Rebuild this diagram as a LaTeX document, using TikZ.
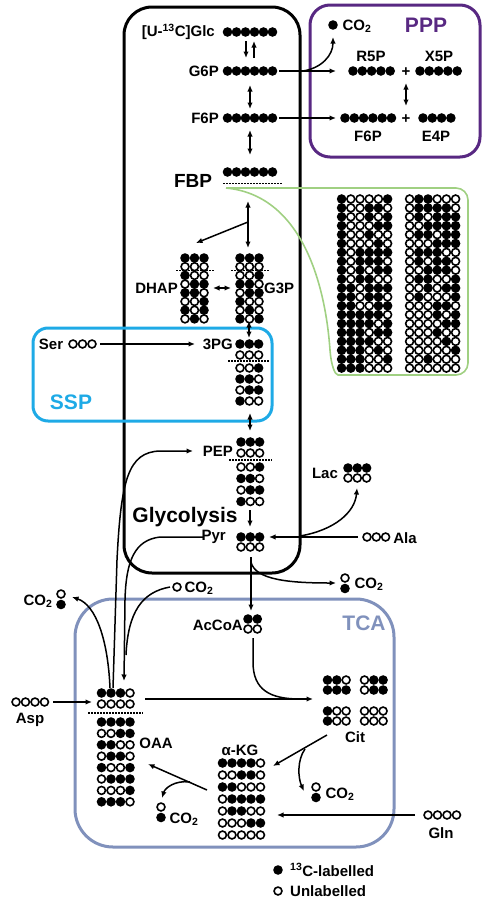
\documentclass[tikz,border=0pt]{standalone}
\usepackage{fontspec}
\setmainfont{Liberation Sans}
\usetikzlibrary{arrows.meta}
\definecolor{pppc}{RGB}{88,40,130}
\definecolor{sspc}{RGB}{30,170,230}
\definecolor{tcac}{RGB}{128,145,188}
\definecolor{grnc}{RGB}{160,208,130}
\newcommand\COt{CO\textsubscript{2}}
\newcommand\molgrid[5]{%
  \foreach \rowl [count=\r from 0] in {#5} {
    \foreach \v [count=\c from 0] in \rowl {
      \pgfmathsetmacro\px{#1+\c*#3}
      \pgfmathsetmacro\py{#2+\r*#4}
      \ifnum\v=1\relax \fill (\px,\py) circle[radius=4.8];
      \else \draw[line width=1.6pt, fill=white] (\px,\py) circle[radius=3.95];
      \fi
    }
  }%
}
\begin{document}
\begin{tikzpicture}[x=1pt,y=-1pt,
  lbl/.style={font=\bfseries\fontsize{15}{16}\selectfont, inner sep=0},
  big/.style={font=\bfseries\fontsize{21}{22}\selectfont, inner sep=0},
  arr/.style={line width=1.5pt, -{Latex[length=6.5pt,width=5.5pt]}},
  darr/.style={line width=1.5pt, {Latex[length=6.5pt,width=5.5pt]}-{Latex[length=6.5pt,width=5.5pt]}},
  ln/.style={line width=1.5pt},
  dotl/.style={line width=1.4pt, dash pattern=on 1.5pt off 1.5pt}]
\useasboundingbox (0,0) rectangle (483,905);
% ---------- boxes
\draw[line width=3pt, rounded corners=28pt] (124,7) rectangle (300,573);
\draw[pppc, line width=3pt, rounded corners=20pt] (310,5) rectangle (480,157);
\draw[sspc, line width=3pt, rounded corners=15pt] (33,328) rectangle (272,421);
\draw[tcac, line width=3pt, rounded corners=38pt] (75,599) rectangle (394,847);
\draw[grnc, line width=1.6pt, rounded corners=12pt] (226,188) -- (468,188) -- (468,375) -- (350,375) [sharp corners] .. controls (335,375) and (331,365) .. (330,350) .. controls (325,280) and (300,195) .. (226,188);
% ---------- labels
\node[lbl, anchor=east] (glc) at (215,32) {[U-\textsuperscript{13}C]Glc};
\node[lbl, anchor=east] (g6p) at (219,71) {G6P};
\node[lbl, anchor=east] (f6p) at (219,118) {F6P};
\node[font=\bfseries\fontsize{19}{20}\selectfont, inner sep=0] (fbp) at (193,181) {FBP};
\node[lbl, anchor=east] (dhap) at (178,288) {DHAP};
\node[lbl, anchor=west] (g3p) at (264,288) {G3P};
\node[lbl, anchor=east] (pg3) at (233,344) {3PG};
\node[lbl] (ser) at (51,344) {Ser};
\node[big, text=sspc] (ssp) at (71,402) {SSP};
\node[lbl, anchor=east] (pep) at (233,451) {PEP};
\node[big] (glyco) at (185,517) {Glycolysis};
\node[lbl, anchor=east] (pyr) at (226,537) {Pyr};
\node[lbl] (lac) at (325,473) {Lac};
\node[lbl] (ala) at (405,538) {Ala};
\node[lbl] (co2b) at (369,584) {\COt};
\node[lbl, anchor=east] (acoa) at (243,625) {AcCoA};
\node[big, text=tcac] (tca) at (364,623) {TCA};
\node[lbl] (co2l) at (38,601) {\COt};
\node[lbl] (co2m) at (199,588) {\COt};
\node[lbl] (asp) at (30,720) {Asp};
\node[lbl] (oaa) at (156,743) {OAA};
\node[lbl] (cit) at (355,737) {Cit};
\node[lbl] (akg) at (240,750) {α-KG};
\node[lbl] (co2c) at (340,794) {\COt};
\node[lbl] (co2k) at (184,819) {\COt};
\node[lbl] (gln) at (441,833) {Gln};
\node[big, text=pppc] (ppp) at (426,25) {PPP};
\node[lbl] (co2p) at (357,26) {\COt};
\node[lbl] (r5p) at (371,56) {R5P};
\node[lbl] (x5p) at (439,56) {X5P};
\node[lbl] (f6pb) at (368,136) {F6P};
\node[lbl] (e4p) at (436,136) {E4P};
\node[lbl] (plus1) at (406,72) {+};
\node[lbl] (plus2) at (406,119) {+};
\node[lbl, anchor=west] (leg1) at (290,870) {\textsuperscript{13}C-labelled};
\node[lbl, anchor=west] (leg2) at (290,891) {Unlabelled};
% ---------- single dots
\fill (278,870) circle[radius=4.8];
\draw[line width=1.6pt] (278,891) circle[radius=3.95];
\fill (333,25) circle[radius=4.8];
\draw[line width=1.6pt] (177,587) circle[radius=3.95];
\foreach \cx/\cy in {345/578, 61/594, 316/787, 161/807}{
  \draw[line width=1.6pt] (\cx,\cy) circle[radius=3.95];
  \fill (\cx,\cy+10.5) circle[radius=4.8];
}
% ---------- dot grids
\molgrid{227.5}{32}{9}{9}{{1,1,1,1,1,1}}
\molgrid{227.5}{71}{9}{9}{{1,1,1,1,1,1}}
\molgrid{227.5}{118}{9}{9}{{1,1,1,1,1,1}}
\molgrid{227.5}{172}{9}{9}{{1,1,1,1,1,1}}
\draw[dotl] (223,183.5) -- (283,183.5);
\molgrid{353}{71}{9.3}{9}{{1,1,1,1,1}}
\molgrid{420}{71}{9.3}{9}{{1,1,1,1,1}}
\molgrid{345}{118}{9.3}{9}{{1,1,1,1,1,1}}
\molgrid{423}{118}{9.3}{9}{{1,1,1,1}}
% trioses
\molgrid{185}{258}{9.5}{8.7}{{1,1,1},{0,0,0},{1,0,0},{0,1,1},{1,1,0},{0,0,1},{1,0,1},{0,1,0}}
\draw[dotl] (176,270.5) -- (214,270.5);
\molgrid{240}{258}{9.5}{8.7}{{1,1,1},{0,0,0},{0,0,1},{1,1,0},{0,1,1},{1,0,0},{0,1,0},{1,0,1}}
\draw[dotl] (231,270.5) -- (269,270.5);
\molgrid{240}{344}{9.3}{11}{{1,1,1},{0,0,0}}
\molgrid{240}{368}{9.3}{11}{{0,0,1},{1,1,0},{0,1,1},{1,0,0}}
\draw[dotl] (228,361) -- (270,361);
\molgrid{241}{442}{9.3}{11}{{1,1,1},{0,0,0}}
\molgrid{241}{467}{9.3}{11.5}{{0,0,1},{1,1,0},{0,1,1},{1,0,0}}
\draw[dotl] (229,460) -- (272,460);
\molgrid{241}{537}{9.3}{10}{{1,1,1},{0,0,0}}
\molgrid{348}{468}{9.3}{10}{{1,1,1},{0,0,0}}
\molgrid{367}{537}{9.3}{10}{{0,0,0}}
\molgrid{73}{344}{9.5}{10}{{0,0,0}}
\molgrid{248}{619}{9.3}{10}{{1,1},{0,0}}
% green box
\molgrid{341.6}{199}{9.2}{8.9}{{1,0,0,0,0,1},{1,0,0,1,1,0},{1,0,0,1,0,1},{1,0,0,0,1,1},{1,0,0,1,0,0},{1,0,0,0,1,0},{1,0,1,1,1,1},{1,0,1,1,1,0},{1,0,1,0,1,1},{1,0,1,1,0,0},{1,1,0,1,1,1},{1,1,0,1,1,0},{1,1,0,0,1,1},{1,1,1,1,1,0},{1,1,1,1,0,1},{1,1,1,0,1,1},{1,1,1,1,0,0},{1,1,1,0,1,0},{1,1,1,0,0,1},{1,1,1,0,0,0}}
\molgrid{409.6}{199}{9.2}{8.9}{{0,1,1,0,0,0},{0,1,1,1,1,0},{0,1,0,1,1,1},{0,0,1,1,1,1},{0,1,1,0,1,1},{0,0,0,1,1,1},{0,1,1,1,0,0},{0,1,0,1,1,0},{0,0,1,1,1,0},{0,1,1,0,0,1},{0,0,1,0,1,1},{0,1,0,0,0,1},{0,0,0,1,1,0},{0,0,0,1,0,1},{0,0,0,0,1,1},{0,0,0,1,0,0},{0,0,0,0,1,0},{0,0,0,0,0,1},{0,0,1,0,0,0},{0,0,0,0,0,0}}
% OAA
\molgrid{101.5}{693}{9.5}{11}{{1,1,1,0},{0,0,0,0}}
\draw[dotl] (88,713) -- (143,713);
\molgrid{101.5}{722}{9.5}{11.4}{{1,1,1,1},{0,0,1,1},{1,1,0,0},{0,1,1,0},{1,0,0,1},{0,1,1,1},{0,0,0,1},{1,1,1,0}}
\molgrid{16}{702}{9.5}{10}{{0,0,0,0}}
\molgrid{428}{815}{9.5}{10}{{0,0,0,0}}
% Cit
\molgrid{327.5}{680}{9.3}{10}{{1,1,0},{1,1,1}}
\molgrid{364.5}{680}{9.3}{10}{{0,1,1},{0,1,1}}
\molgrid{327.5}{711}{9.3}{10}{{1,0,0},{1,0,0}}
\molgrid{364.5}{711}{9.3}{10}{{0,0,0},{0,0,0}}
% aKG
\molgrid{222.5}{763}{9.5}{12}{{1,1,1,1,0},{0,0,1,1,0},{1,1,0,0,0},{0,1,1,1,1},{0,1,1,0,0},{0,0,0,1,1},{0,0,0,0,0}}
% ---------- arrows
\draw[arr] (246,41) -- (246,58);
\draw[arr] (254,58) -- (254,41);
\draw[darr] (250,85) -- (250,109);
\draw[darr] (250,130) -- (250,155);
\draw[darr] (248,201) -- (248,248);
\draw[arr] (248,222) -- (196,243);
\draw[darr] (213,288) -- (231,288);
\draw[darr] (249,321) -- (249,338);
\draw[darr] (250,413) -- (250,431);
\draw[arr] (250,510) -- (250,527);
\draw[arr] (100,344) -- (195,344);
\draw[arr] (279,71) -- (336,71);
\draw[arr] (303,71) .. controls (322,68) and (333,55) .. (333,37);
\draw[arr] (279,118) -- (336,118);
\draw[darr] (406,83) -- (406,106);
\draw[arr] (113,688) -- (117,560) .. controls (121,480) and (128,452) .. (160,451) -- (193,451);
\draw[arr] (203,537) -- (160,537) .. controls (135,540) and (126,560) .. (125,600) -- (124,681);
\draw[ln] (170,587) .. controls (142,592) and (128,612) .. (126,655);
\draw[arr] (110,688) .. controls (108,640) and (96,605) .. (72,597);
\draw[arr] (53,702) -- (92,702);
\draw[arr] (145,699) -- (313,699);
\draw[ln] (253,638) -- (253,662) .. controls (253,690) and (270,699) .. (300,699);
\draw[arr] (251,557) -- (251,611);
\draw[arr] (251,562) .. controls (255,580) and (290,583) .. (336,583);
\draw[arr] (358,537) -- (269,537);
\draw[arr] (300,536) .. controls (335,530) and (355,512) .. (357,488);
\draw[arr] (327,735) -- (273,766);
\draw[arr] (305,749) .. controls (297,760) and (298,778) .. (304,791);
\draw[arr] (207,790) -- (148,764);
\draw[arr] (190,782) .. controls (175,780) and (165,788) .. (162,798);
\draw[arr] (415,815) -- (277,815);
\end{tikzpicture}
\end{document}
